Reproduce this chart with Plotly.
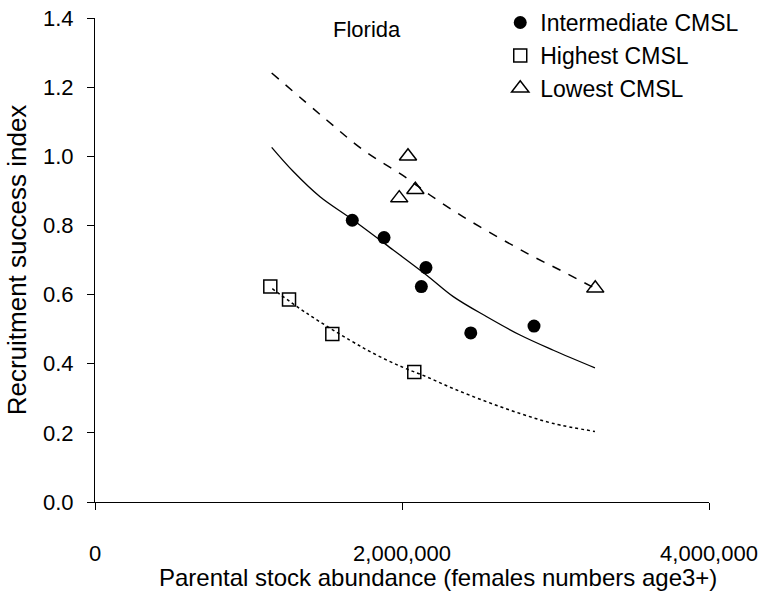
import plotly.graph_objects as go

# Observed points (parental stock abundance, recruitment success index)
inter_x = [1.676e6, 1.883e6, 2.156e6, 2.126e6, 2.448e6, 2.860e6]
inter_y = [0.815, 0.765, 0.678, 0.623, 0.489, 0.509]
high_x = [1.142e6, 1.264e6, 1.546e6, 2.080e6]
high_y = [0.623, 0.586, 0.486, 0.376]
low_x = [2.039e6, 2.087e6, 1.982e6, 3.259e6]
low_y = [1.000, 0.903, 0.879, 0.618]

# Fitted curves
fit_inter_x = [1.151e6, 1.292e6, 1.466e6, 1.674e6, 1.943e6, 2.161e6, 2.334e6, 2.552e6, 2.769e6, 2.986e6, 3.257e6]
fit_inter_y = [1.026, 0.956, 0.883, 0.818, 0.729, 0.656, 0.594, 0.536, 0.483, 0.439, 0.388]
fit_low_x = [1.151e6, 1.509e6, 1.748e6, 2.031e6, 2.182e6, 2.399e6, 2.638e6, 2.855e6, 3.051e6, 3.257e6]
fit_low_y = [1.241, 1.105, 1.018, 0.937, 0.888, 0.825, 0.763, 0.710, 0.666, 0.618]
fit_high_x = [1.155e6, 1.379e6, 1.661e6, 1.835e6, 2.009e6, 2.161e6, 2.334e6, 2.552e6, 2.769e6, 2.986e6, 3.257e6]
fit_high_y = [0.617, 0.546, 0.468, 0.425, 0.389, 0.362, 0.328, 0.290, 0.256, 0.227, 0.204]

x_tickvals = [0, 2e6, 4e6]
x_ticktext = ["0", "2,000,000", "4,000,000"]
y_tickvals = [0.0, 0.2, 0.4, 0.6, 0.8, 1.0, 1.2, 1.4]

x_title = "Parental stock abundance (females numbers age3+)"
y_title = "Recruitment success index"
panel_label = "Florida"

FONT = "Liberation Sans, Arial, sans-serif"
TICK_FS = 22
LEGEND_FS = 23
LABEL_FS = 22
XTITLE_FS = 24
YTITLE_FS = 26

fig = go.Figure()
fig.add_trace(go.Scatter(x=fit_inter_x, y=fit_inter_y, mode="lines", line=dict(color="black", width=1.3, shape="spline"), showlegend=False, hoverinfo="skip"))
fig.add_trace(go.Scatter(x=fit_low_x, y=fit_low_y, mode="lines", line=dict(color="black", width=1.5, dash="dash", shape="spline"), showlegend=False, hoverinfo="skip"))
fig.add_trace(go.Scatter(x=fit_high_x, y=fit_high_y, mode="lines", line=dict(color="black", width=1.5, dash="dot", shape="spline"), showlegend=False, hoverinfo="skip"))

fig.add_trace(go.Scatter(x=inter_x, y=inter_y, mode="markers", name="Intermediate CMSL",
                         marker=dict(symbol="circle", size=13, color="black", line=dict(width=0))))
fig.add_trace(go.Scatter(x=high_x, y=high_y, mode="markers", name="Highest CMSL",
                         marker=dict(symbol="square-open", size=13, color="black", line=dict(width=1.5))))
fig.add_trace(go.Scatter(x=low_x, y=low_y, mode="markers", name="Lowest CMSL",
                         marker=dict(symbol="triangle-up-open", size=15, color="black", line=dict(width=1.5))))

fig.add_annotation(x=1.772e6, y=1.366, text=panel_label, showarrow=False, xref="x", yref="y",
                   font=dict(family=FONT, size=LABEL_FS, color="black"))
# x-axis title (offset to the right as in the original)
fig.add_annotation(x=0.5586, y=-0.155, xref="paper", yref="paper", text=x_title, showarrow=False,
                   xanchor="center", yanchor="middle",
                   font=dict(family=FONT, size=XTITLE_FS, color="black"))

fig.update_layout(
    width=767, height=595,
    margin=dict(l=95, r=58, t=18, b=93, autoexpand=False),
    paper_bgcolor="white", plot_bgcolor="white",
    font=dict(family=FONT, size=TICK_FS, color="black"),
    legend=dict(x=0.66, y=1.035, xanchor="left", yanchor="top", bgcolor="rgba(0,0,0,0)",
                font=dict(family=FONT, size=LEGEND_FS, color="black"), itemwidth=30, tracegroupgap=0),
)
fig.update_xaxes(range=[0, 4e6], tickmode="array", tickvals=x_tickvals, ticktext=x_ticktext,
                 showline=True, linecolor="black", linewidth=1, ticks="outside", ticklen=7,
                 tickcolor="black", showgrid=False, zeroline=False, automargin=False,
                 ticklabelstandoff=25, tickfont=dict(family=FONT, size=TICK_FS, color="black"))
fig.update_yaxes(range=[0, 1.4], tickmode="array", tickvals=y_tickvals, tickformat=".1f",
                 showline=True, linecolor="black", linewidth=1, ticks="outside", ticklen=7,
                 tickcolor="black", showgrid=False, zeroline=False, automargin=False,
                 ticklabelstandoff=9, tickfont=dict(family=FONT, size=TICK_FS, color="black"),
                 title=dict(text=y_title, standoff=8,
                            font=dict(family=FONT, size=YTITLE_FS, color="black")))

fig.write_html("out.html", config={"displayModeBar": False},
               post_script="document.body.style.margin='0';")
